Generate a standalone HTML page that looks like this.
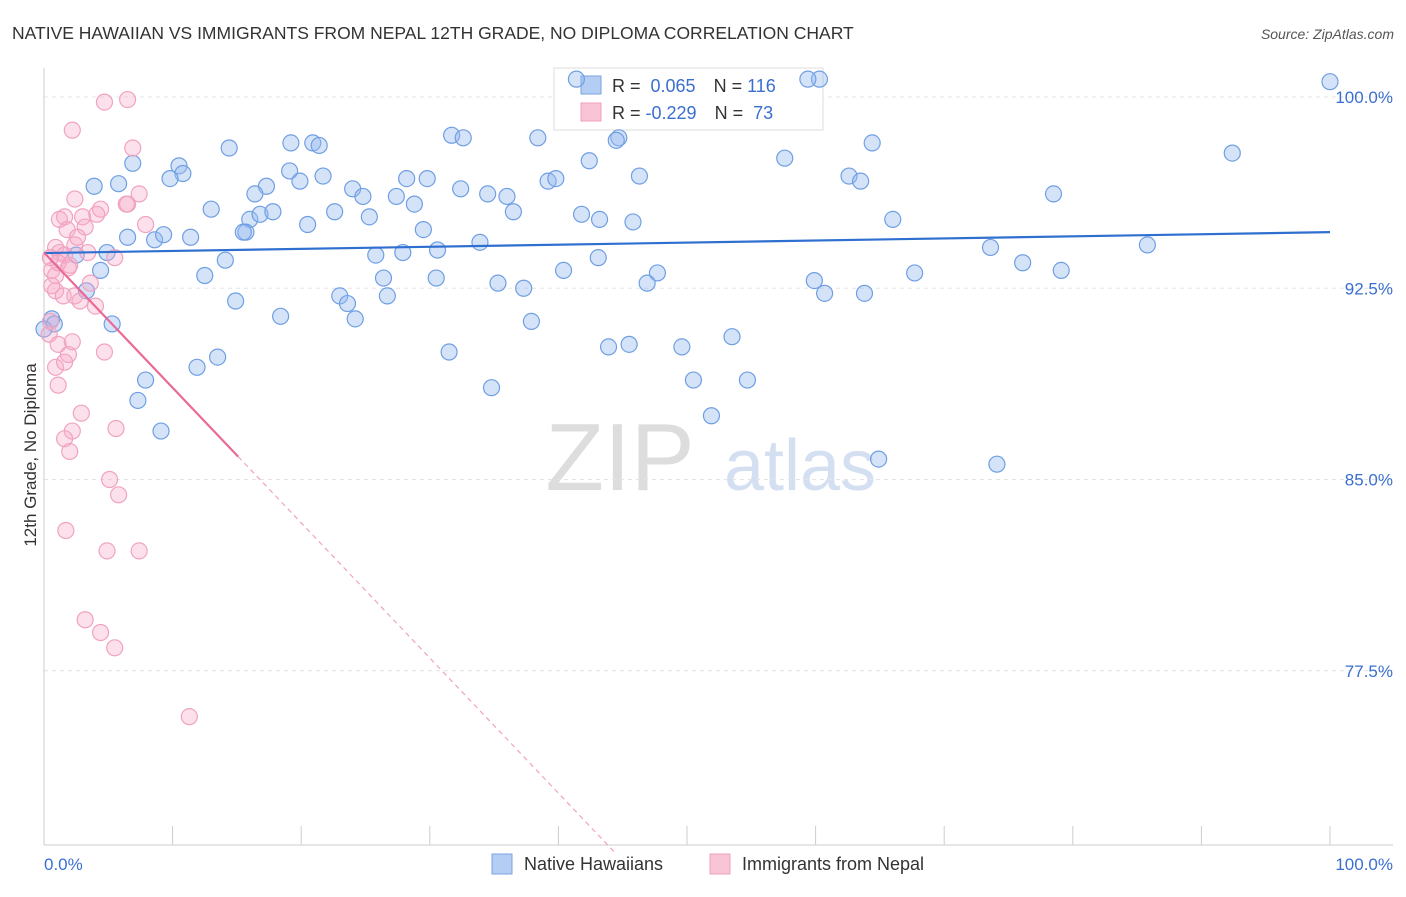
<!DOCTYPE html>
<html><head><meta charset="utf-8"><style>
body{margin:0;background:#fff;font-family:"Liberation Sans",sans-serif}
svg text{font-family:"Liberation Sans",sans-serif}
</style></head><body>
<svg id="chart" width="1406" height="892">
<text x="12" y="39" font-size="17.5" fill="#333">NATIVE HAWAIIAN VS IMMIGRANTS FROM NEPAL 12TH GRADE, NO DIPLOMA CORRELATION CHART</text>
<text x="1394" y="39" font-size="14" fill="#555" font-style="italic" text-anchor="end">Source: ZipAtlas.com</text>
<text x="620" y="490" font-size="96" fill="#ddd" font-family="Liberation Serif" text-anchor="middle">ZIP</text>
<text x="800" y="490" font-size="72" fill="#d4e0f2" text-anchor="middle">atlas</text>
<g id="grid"></g><g id="axes"></g>
<g>
<rect x="554" y="68" width="269" height="62" fill="#fff" stroke="#ddd"/>
<rect x="581" y="76" width="20" height="18" fill="#b4cdf3" stroke="#7aa3e0"/>
<rect x="581" y="103" width="20" height="18" fill="#f9c4d6" stroke="#f0a0bc"/>
<text x="612" y="92" font-size="18" fill="#333">R = <tspan fill="#3a6fd0">&#160;0.065</tspan><tspan dx="18">N = </tspan><tspan fill="#3a6fd0">116</tspan></text>
<text x="612" y="119" font-size="18" fill="#333">R = <tspan fill="#3a6fd0">-0.229</tspan><tspan dx="18">N = </tspan><tspan fill="#3a6fd0">&#160;73</tspan></text>
</g>
<g id="marks"></g>
<text x="36" y="455" font-size="17" fill="#333" text-anchor="middle" transform="rotate(-90 36 455)">12th Grade, No Diploma</text>
<g>
<rect x="492" y="854" width="20" height="20" fill="#b4cdf3" stroke="#7aa3e0"/>
<text x="524" y="870" font-size="18" fill="#333">Native Hawaiians</text>
<rect x="710" y="854" width="20" height="20" fill="#f9c4d6" stroke="#f0a0bc"/>
<text x="742" y="870" font-size="18" fill="#333">Immigrants from Nepal</text>
</g>
</svg>
<script>
const blueX=[41.4,60.3,59.4,100,31.7,32.6,38.4,44.7,44.5,14.4,19.2,20.9,21.4,57.6,64.4,92.4,6.9,10.5,10.8,9.8,19.1,42.4,46.3,28.2,29.8,21.7,19.9,3.9,5.8,17.3,16.4,24.0,24.8,32.4,34.5,36.0,39.2,39.8,62.6,63.5,78.5,13.0,16.0,16.8,17.8,15.7,15.5,20.5,22.6,25.3,27.4,28.8,29.5,36.5,41.8,43.2,45.8,66.0,6.5,8.6,9.3,11.4,33.9,85.8,73.6,79.1,76.1,67.7,2.5,4.9,4.4,12.5,14.1,25.8,27.9,30.6,43.1,40.4,47.7,46.9,59.9,60.7,63.8,26.4,35.3,37.3,23.0,23.6,26.7,30.5,14.9,18.4,24.2,37.9,5.3,3.3,0.6,0.8,31.5,43.9,45.5,49.6,53.5,13.5,11.9,7.9,7.3,9.1,34.8,50.5,54.7,51.9,64.9,74.1,0];
const blueY=[100.7,100.7,100.7,100.6,98.5,98.4,98.4,98.4,98.3,98.0,98.2,98.2,98.1,97.6,98.2,97.8,97.4,97.3,97.0,96.8,97.1,97.5,96.9,96.8,96.8,96.9,96.7,96.5,96.6,96.5,96.2,96.4,96.1,96.4,96.2,96.1,96.7,96.8,96.9,96.7,96.2,95.6,95.2,95.4,95.5,94.7,94.7,95.0,95.5,95.3,96.1,95.8,94.8,95.5,95.4,95.2,95.1,95.2,94.5,94.4,94.6,94.5,94.3,94.2,94.1,93.2,93.5,93.1,93.8,93.9,93.2,93.0,93.6,93.8,93.9,94.0,93.7,93.2,93.1,92.7,92.8,92.3,92.3,92.9,92.7,92.5,92.2,91.9,92.2,92.9,92.0,91.4,91.3,91.2,91.1,92.4,91.3,91.1,90.0,90.2,90.3,90.2,90.6,89.8,89.4,88.9,88.1,86.9,88.6,88.9,88.9,87.5,85.8,85.6,90.9];
const pinkX=[4.7,6.5,2.2,6.9,7.4,2.4,6.5,4.4,1.2,1.6,3.0,1.8,3.2,0.9,1.2,1.6,2.4,3.4,5.5,0.6,0.9,2.0,0.9,1.5,2.4,4.0,0.5,0.4,1.1,2.2,1.9,4.7,0.9,1.6,1.1,2.9,2.2,1.6,2.0,5.6,5.1,5.8,1.7,4.9,7.4,3.2,4.4,5.5,11.3,7.9,2.6,1.1,3.6,4.1,6.4,2.8,0.5,0.6,1.9];
const pinkY=[99.8,99.9,98.7,98.0,96.2,96.0,95.8,95.6,95.2,95.3,95.3,94.8,94.9,94.1,93.9,93.8,94.2,93.9,93.7,93.2,93.0,93.4,92.4,92.2,92.2,91.8,91.2,90.7,90.3,90.4,89.9,90.0,89.4,89.6,88.7,87.6,86.9,86.6,86.1,87.0,85.0,84.4,83.0,82.2,82.2,79.5,79.0,78.4,75.7,95.0,94.5,93.5,92.7,95.4,95.8,92.0,93.7,92.6,93.3];
const yTicks=[100,92.5,85,77.5];
const yTickLabels=["100.0%","92.5%","85.0%","77.5%"];
const xTicks=[0,10,20,30,40,50,60,70,80,90,100];
const blueTrend=[93.88,94.7];
const pinkTrend=[93.9,-0.53];
const NS='http://www.w3.org/2000/svg';
const sx=v=>44+v*12.86, sy=v=>97+(100-v)*25.5;
function mk(p,t,a){const e=document.createElementNS(NS,t);for(const k in a)e.setAttribute(k,a[k]);document.getElementById(p).appendChild(e);return e;}
yTicks.forEach((t,i)=>{
 const g=mk('grid','line',{x1:44,x2:1393,y1:sy(t),y2:sy(t),stroke:'#e4e4e4','stroke-dasharray':'4 4'});
 
 
 const tx=mk('axes','text',{x:1393,y:sy(t)+6,'font-size':17,fill:'#3a6fd0','text-anchor':'end'});
 tx.textContent=yTickLabels[i];
 
 
});
const yl=mk('axes','line',{x1:44,x2:44,y1:68,y2:845,stroke:'#ccc'});


const xl=mk('axes','line',{x1:44,x2:1393,y1:845,y2:845,stroke:'#ccc'});


xTicks.forEach(t=>{const l=mk('axes','line',{x1:sx(t),x2:sx(t),y1:826,y2:845,stroke:'#ccc'});
 
 });
[[0,'0.0%','start',44],[100,'100.0%','end',1393]].forEach(d=>{const t=mk('axes','text',{x:d[3],y:870,'font-size':17,fill:'#3a6fd0','text-anchor':d[2]});t.textContent=d[1];
 
 });
blueX.forEach((x,i)=>{const c=mk('marks','circle',{cx:sx(x),cy:sy(blueY[i]),r:8,fill:'rgba(150,185,240,0.4)',stroke:'#6f9fe3','stroke-width':1.2});
 
 });
pinkX.forEach((x,i)=>{const c=mk('marks','circle',{cx:sx(x),cy:sy(pinkY[i]),r:8,fill:'rgba(245,170,200,0.35)',stroke:'#f0a3c0','stroke-width':1.2});
 
 });
const bl=mk('marks','line',{x1:sx(0),y1:sy(blueTrend[0]),x2:sx(100),y2:sy(blueTrend[1]),stroke:'#2f6fcf','stroke-width':2.2});


const pe=15.1, pd=44.4;
const pl=mk('marks','line',{x1:sx(0),y1:sy(pinkTrend[0]),x2:sx(pe),y2:sy(pinkTrend[0]+pinkTrend[1]*pe),stroke:'#e86a95','stroke-width':2.2});


const pdl=mk('marks','line',{x1:sx(pe),y1:sy(pinkTrend[0]+pinkTrend[1]*pe),x2:sx(pd),y2:sy(pinkTrend[0]+pinkTrend[1]*pd),stroke:'#f0a3c0','stroke-width':1.2,'stroke-dasharray':'5 4'});


</script>
</body></html>
